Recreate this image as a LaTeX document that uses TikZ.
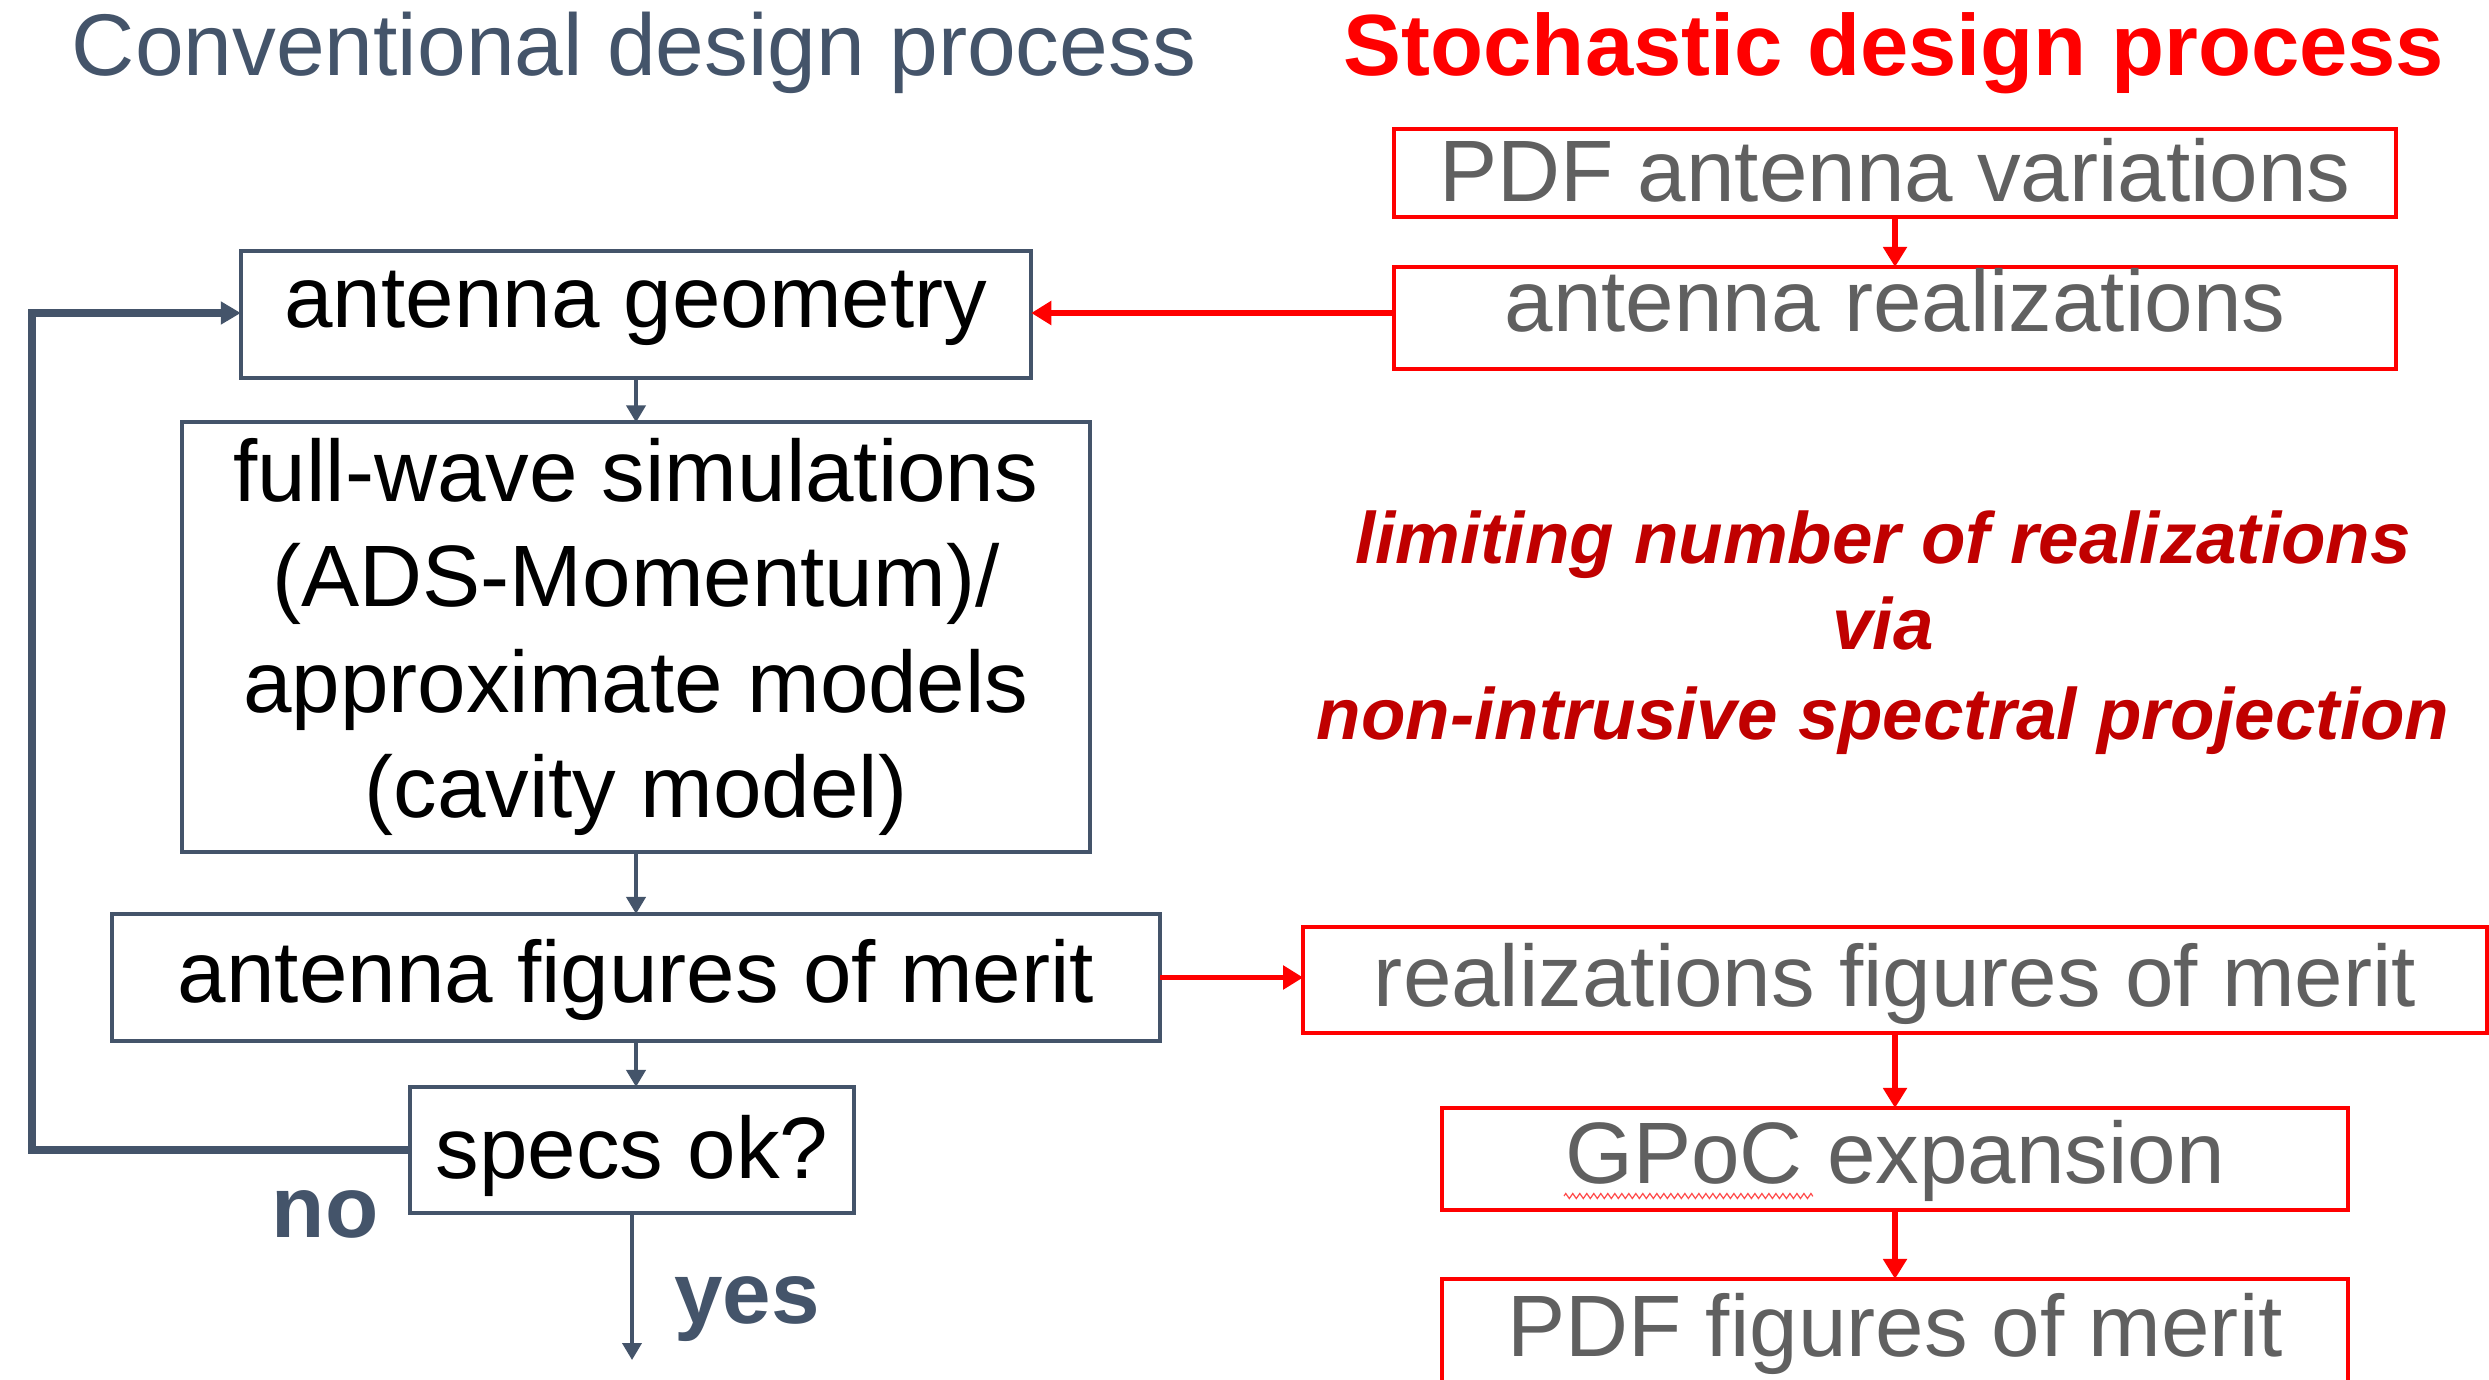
\documentclass[tikz,border=0pt]{standalone}
\usepackage{fontspec}
\setmainfont{Liberation Sans}
\usetikzlibrary{arrows.meta,decorations.pathmorphing}
\definecolor{slate}{HTML}{44546A}
\definecolor{darkred}{HTML}{C00000}
\definecolor{boxtext}{HTML}{606060}

\begin{document}
\begin{tikzpicture}[x=0.01cm,y=-0.01cm,
  every node/.style={inner sep=0pt, outer sep=0pt},
  boxfont/.style={font=\fontsize{24.8}{29.9}\selectfont},
  convbox/.style={draw=slate, line width=1.1pt, text=black, boxfont, anchor=base},
  stochbox/.style={draw=red, line width=1.1pt, text=boxtext, boxfont, anchor=base},
  convarrow/.style={draw=slate, line width=1.1pt, -{Triangle[length=0.17cm,width=0.19cm]}},
  looparrow/.style={draw=slate, line width=2pt, -{Triangle[length=0.2cm,width=0.22cm]}},
  redarrow/.style={draw=red, line width=1.7pt, -{Triangle[length=0.2cm,width=0.23cm]}},
  heading/.style={font=\fontsize{24.9}{29}\selectfont, anchor=base},
  remark/.style={font=\fontsize{20.7}{25}\selectfont\bfseries\itshape, text=darkred, anchor=base},
  answer/.style={font=\fontsize{24.8}{29.9}\selectfont\bfseries, text=slate, anchor=base}]

\useasboundingbox (0,0) rectangle (2489,1379);
\clip (0,0) rectangle (2489,1379);

% column headings
\node[heading, text=slate] (convtitle) at (634,76) {Conventional design process};
\node[heading, text=red, font=\fontsize{24.7}{29}\selectfont\bfseries] (stochtitle) at (1894,76) {Stochastic design process};

% conventional flow
\node[convbox, minimum width=7.90cm, text height=0.76cm, text depth=0.51cm] (geom) at (636,327) {antenna geometry};
\node[draw=slate, line width=1.1pt, boxfont, align=center, minimum width=9.08cm, minimum height=4.29cm] (fullwave) at (636,637)
  {full-wave simulations\\(ADS-Momentum)/\\approximate models\\(cavity model)};
\node[convbox, minimum width=10.48cm, text height=0.88cm, text depth=0.39cm] (figmerit) at (636,1002) {antenna figures of merit};
\node[convbox, minimum width=4.44cm, text height=0.91cm, text depth=0.35cm] (specs) at (632,1178) {specs ok?};

\coordinate (bend) at (32,313);
\coordinate (yesend) at (632,1360);

\draw[convarrow] (geom.south) -- (fullwave.north);
\draw[convarrow] (fullwave.south) -- (figmerit.north);
\draw[convarrow] (figmerit.south) -- (figmerit.south |- specs.north);
\draw[looparrow] (specs.west) -| (bend) -- (geom.west |- bend);
\draw[convarrow] (specs.south) -- (yesend);

\node[answer] (no) at (325,1237) {no};
\node[answer] (yes) at (747,1323) {yes};

% stochastic flow
\node[stochbox, minimum width=10.01cm, text height=0.73cm, text depth=0.15cm] (pdfvar) at (1895,202) {PDF antenna variations};
\node[stochbox, minimum width=10.01cm, text height=0.64cm, text depth=0.38cm] (antreal) at (1895,331) {antenna realizations};
\node[stochbox, minimum width=11.83cm, text height=0.79cm, text depth=0.27cm] (realfig) at (1895,1006) {realizations figures of merit};
\node[stochbox, minimum width=9.06cm, text height=0.75cm, text depth=0.27cm] (gpoc) at (1895,1183) {GPoC expansion};
\node[stochbox, minimum width=9.06cm, text height=0.77cm, text depth=0.60cm] (pdffig) at (1895,1356) {PDF figures of merit};

% spell-check squiggle under GPoC
\draw[red!70, line width=0.35pt, decorate, decoration={zigzag, segment length=0.07cm, amplitude=0.025cm}]
  (1564,1196) -- (1813,1196);

\draw[redarrow] (pdfvar.south) -- (antreal.north);
\draw[redarrow] (antreal.west |- bend) -- (geom.east |- bend);
\draw[redarrow] (figmerit.east) -- (realfig.west |- figmerit.east);
\draw[redarrow] (realfig.south) -- (gpoc.north);
\draw[redarrow] (gpoc.south) -- (pdffig.north);

% explanatory remark
\node[remark] (lim1) at (1883,563) {limiting number of realizations};
\node[remark] (lim2) at (1883,649) {via};
\node[remark] (lim3) at (1883,739) {non-intrusive spectral projection};
\end{tikzpicture}
\end{document}
